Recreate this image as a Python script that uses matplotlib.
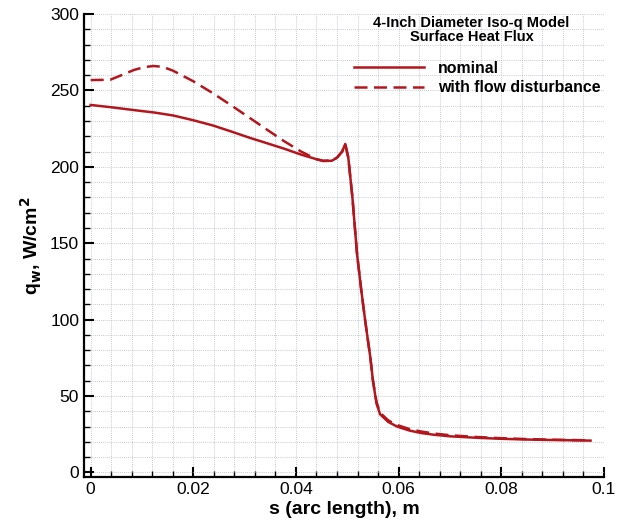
import numpy as np
import matplotlib.pyplot as plt
from matplotlib.ticker import MultipleLocator

# nominal surface heat flux
s_nom = [0.0, 0.004, 0.0083, 0.0125, 0.0161, 0.02, 0.0239, 0.0275, 0.031, 0.0345,
         0.0376, 0.041, 0.044, 0.0453, 0.047, 0.048, 0.049, 0.0496, 0.0502, 0.051,
         0.0519, 0.0527, 0.0535, 0.0545, 0.055, 0.0557, 0.0564, 0.058, 0.0597, 0.062,
         0.0643, 0.067, 0.0701, 0.075, 0.0799, 0.085, 0.09, 0.0974]
q_nom = [240.5, 239.0, 237.2, 235.5, 233.6, 230.5, 227.0, 223.0, 219.0, 215.3,
         212.0, 208.0, 205.0, 203.8, 204.0, 206.0, 210.0, 215.0, 206.0, 180.0,
         143.0, 120.0, 99.0, 75.0, 60.0, 45.0, 38.0, 33.0, 30.0, 27.5,
         25.8, 24.6, 23.6, 22.7, 22.0, 21.5, 21.2, 20.8]

# with flow disturbance
s_dis = [0.0, 0.0038, 0.006, 0.0085, 0.0105, 0.0122, 0.014, 0.016, 0.02, 0.0239,
         0.0275, 0.031, 0.0345, 0.0376, 0.041, 0.044, 0.0453, 0.047, 0.048, 0.049,
         0.0496, 0.0502, 0.051, 0.0519, 0.0527, 0.0535, 0.0545, 0.055, 0.0557, 0.0564,
         0.058, 0.0597, 0.062, 0.0643, 0.067, 0.0701, 0.075, 0.0799, 0.085, 0.09, 0.0974]
q_dis = [256.8, 257.0, 260.0, 263.5, 265.3, 266.0, 265.5, 263.0, 256.0, 248.0,
         240.0, 232.0, 224.0, 217.0, 210.0, 205.0, 204.0, 204.2, 206.0, 210.0,
         215.0, 206.0, 180.0, 143.0, 120.0, 99.0, 75.0, 60.0, 46.0, 39.0,
         34.0, 31.0, 28.5, 26.8, 25.4, 24.3, 23.2, 22.4, 21.8, 21.4, 21.0]

color = "#b3161d"

def main():
    plt.rcParams["font.family"] = ["Liberation Sans", "DejaVu Sans"]

    fig = plt.figure(figsize=(6.2, 5.21), dpi=100)
    ax = fig.add_axes([0.1355, 0.0845, 0.8385, 0.8885])

    ax.plot(s_nom, q_nom, color=color, lw=1.8, label="nominal")
    ax.plot(s_dis, q_dis, color=color, lw=1.8, dashes=(5.2, 2.6),
            label="with flow disturbance")

    ax.set_xlim(-0.0013, 0.1)
    ax.set_ylim(-3, 300)

    ax.xaxis.set_major_locator(MultipleLocator(0.02))
    ax.xaxis.set_minor_locator(MultipleLocator(0.004))
    ax.yaxis.set_major_locator(MultipleLocator(50))
    ax.yaxis.set_minor_locator(MultipleLocator(10))
    ax.set_xticks([0, 0.02, 0.04, 0.06, 0.08, 0.1])
    ax.set_xticklabels(["0", "0.02", "0.04", "0.06", "0.08", "0.1"])

    ax.grid(which="both", color="#a9bcc9", ls=(0, (1, 1.5)), lw=0.6)
    ax.set_axisbelow(True)
    ax.tick_params(which="major", direction="in", length=7, width=1.5, labelsize=12.5)
    ax.tick_params(which="minor", direction="in", length=4, width=1.0)

    for side in ["top", "right"]:
        ax.spines[side].set_visible(False)
    for side in ["left", "bottom"]:
        ax.spines[side].set_linewidth(1.6)

    ax.set_xlabel("s (arc length), m", fontsize=14, fontweight="bold", labelpad=3)
    ax.set_ylabel(r"q$_\mathbf{w}$, W/cm$^\mathbf{2}$", fontsize=14, fontweight="bold",
                  labelpad=4)

    ax.text(0.0742, 298.5, "4-Inch Diameter Iso-q Model\nSurface Heat Flux",
            ha="center", va="top", fontsize=10.5, fontweight="bold", linespacing=1.0)

    ax.legend(loc="upper right", bbox_to_anchor=(1.021, 0.93), frameon=False,
              prop={"weight": "bold", "size": 11.4}, handlelength=4.4,
              handletextpad=0.9, labelspacing=0.3)

    fig.savefig("out.png", dpi=100)

if __name__ == "__main__":
    main()
